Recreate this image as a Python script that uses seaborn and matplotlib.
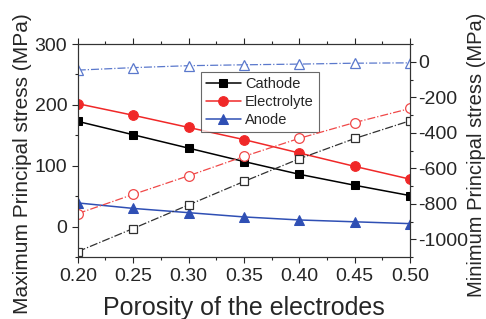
import numpy as np
import pandas as pd
import matplotlib
matplotlib.use("Agg")
import matplotlib.pyplot as plt
import seaborn as sns
from matplotlib.ticker import MultipleLocator

# porosity values on the x axis
porosity = [0.20, 0.25, 0.30, 0.35, 0.40, 0.45, 0.50]

# maximum principal stress (left axis, filled markers)
cathode_max = [173, 151, 129, 107, 86, 68, 51]
electrolyte_max = [202, 183, 163, 143, 121, 99, 78]
anode_max = [39, 30, 23, 16, 11, 8, 5]

# minimum principal stress (right axis, open markers)
cathode_min = [-1069, -939, -806, -674, -546, -432, -332]
electrolyte_min = [-855, -747, -642, -533, -431, -342, -263]
anode_min = [-47, -33, -22, -17, -13, -8, -6]

sns.set_style("ticks")
plt.rcParams["font.family"] = ["Liberation Sans", "DejaVu Sans"]
plt.rcParams["axes.unicode_minus"] = False

fig = plt.figure(figsize=(4.86, 3.19), dpi=100)
ax = fig.add_axes([0.160, 0.194, 0.684, 0.668])
ax2 = ax.twinx()

black = "#000000"
red = "#f02828"
blue = "#2f4fb4"
red_open = "#f04848"
blue_open = "#5a78cc"
gray_open = "#303030"

df = pd.DataFrame({"x": porosity,
                   "cmax": cathode_max, "emax": electrolyte_max, "amax": anode_max,
                   "cmin": cathode_min, "emin": electrolyte_min, "amin": anode_min})

# filled series, solid lines
sns.lineplot(data=df, x="x", y="cmax", ax=ax, color=black, marker="s", markersize=6,
             markeredgecolor=black, linewidth=1.1, label="Cathode")
sns.lineplot(data=df, x="x", y="emax", ax=ax, color=red, marker="o", markersize=7,
             markeredgecolor=red, linewidth=1.1, label="Electrolyte")
sns.lineplot(data=df, x="x", y="amax", ax=ax, color=blue, marker="^", markersize=7.5,
             markeredgecolor=blue, linewidth=1.1, label="Anode")

# open series, dash-dot lines
sns.lineplot(data=df, x="x", y="cmin", ax=ax2, color=gray_open, marker="s", markersize=6,
             markerfacecolor="white", markeredgecolor=gray_open, markeredgewidth=0.9,
             linestyle="-.", linewidth=0.9)
sns.lineplot(data=df, x="x", y="emin", ax=ax2, color=red_open, marker="o", markersize=7,
             markerfacecolor="white", markeredgecolor=red_open, markeredgewidth=0.9,
             linestyle="-.", linewidth=0.9)
sns.lineplot(data=df, x="x", y="amin", ax=ax2, color=blue_open, marker="^", markersize=7.5,
             markerfacecolor="white", markeredgecolor=blue_open, markeredgewidth=0.9,
             linestyle="-.", linewidth=0.9)

ax.set_xlim(0.20, 0.50)
ax.set_ylim(-50, 300)
ax2.set_ylim(-1100, 100)
ax.set_xticks([0.20, 0.25, 0.30, 0.35, 0.40, 0.45, 0.50])
ax.set_xticklabels(["0.20", "0.25", "0.30", "0.35", "0.40", "0.45", "0.50"])
ax.set_yticks([0, 100, 200, 300])
ax2.set_yticks([0, -200, -400, -600, -800, -1000])
ax.xaxis.set_minor_locator(MultipleLocator(0.025))
ax.yaxis.set_minor_locator(MultipleLocator(50))
ax2.yaxis.set_minor_locator(MultipleLocator(100))

ax.tick_params(axis="both", which="major", direction="out", length=4, width=0.8,
               labelsize=14, top=True)
ax.tick_params(axis="both", which="minor", direction="out", length=2.5, width=0.8, top=True)
ax2.tick_params(axis="y", which="major", direction="out", length=4, width=0.8,
                labelsize=14, pad=1.5)
ax2.tick_params(axis="y", which="minor", direction="out", length=2.5, width=0.8)

for a in (ax, ax2):
    for s in a.spines.values():
        s.set_visible(True)
        s.set_linewidth(0.8)
        s.set_color("#333333")

ax.set_xlabel("Porosity of the electrodes", fontsize=18, labelpad=8)
ax.set_ylabel("Maximum Principal stress (MPa)", fontsize=15)
ax2.set_ylabel("Minimum Principal stress (MPa)", fontsize=14.5)
ax.yaxis.set_label_coords(-0.139, 0.437)
ax2.yaxis.set_label_coords(1.172, 0.479)

leg = ax.legend(loc="upper left", bbox_to_anchor=(0.370, 0.869), fontsize=10.5,
                frameon=True, fancybox=False, borderpad=0.35, labelspacing=0.27,
                handlelength=2.4, handletextpad=0.3, borderaxespad=0)
leg.get_frame().set_edgecolor("#444444")
leg.get_frame().set_linewidth(0.8)

fig.savefig("out.png", dpi=100)
